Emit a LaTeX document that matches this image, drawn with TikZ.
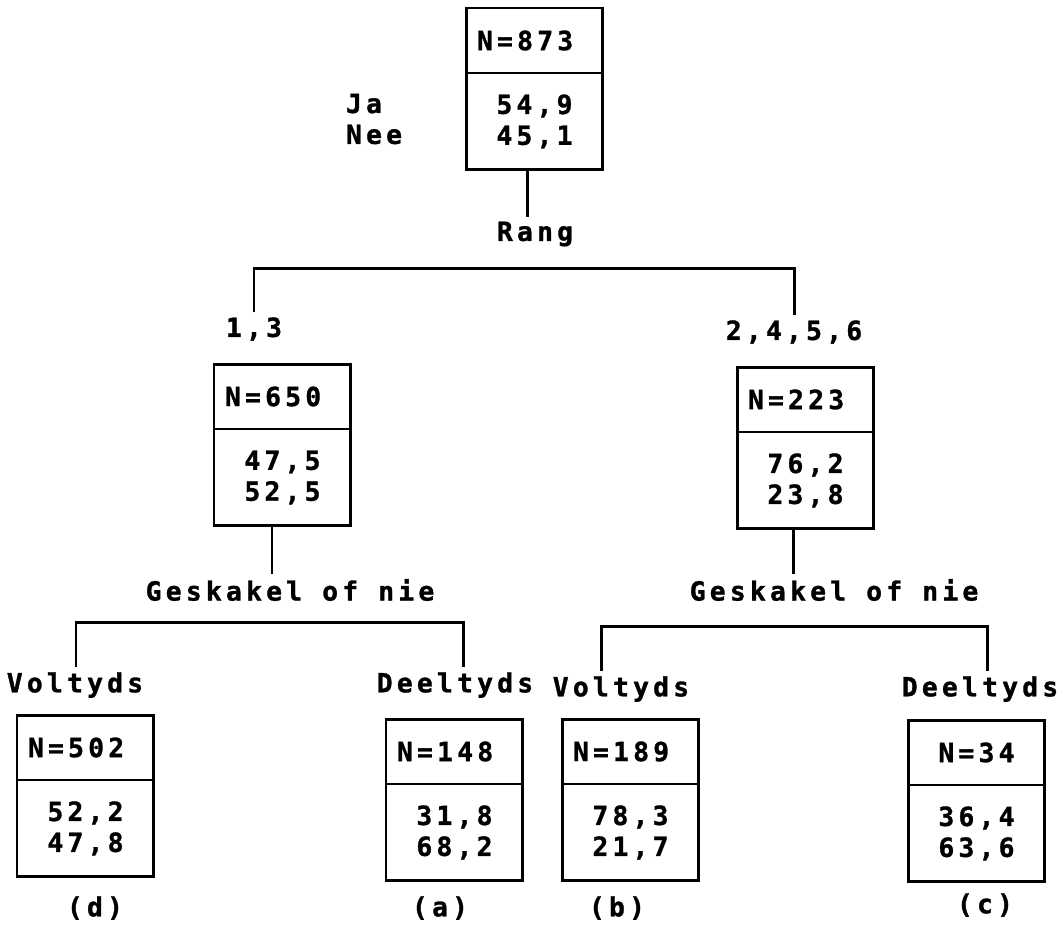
\documentclass[tikz,border=0pt]{standalone}
\usepackage{fontspec}
\newfontfamily\dotfont{DejaVu Sans Mono}[LetterSpace=16, BoldFeatures={FakeBold=1.2}]
\usepackage{tikz}
\usetikzlibrary{positioning}

\begin{document}
\begin{tikzpicture}[
                x=0.02cm, y=-0.02cm,
                line width=1.7pt,
                every node/.style={font=\dotfont\bfseries\fontsize{15pt}{17.6pt}\selectfont, inner sep=2pt},
                head/.style={draw, outer sep=0pt, anchor=north west, minimum height=1.3cm,
                    text width=2.3cm, inner xsep=0.22cm, align=left},
                body/.style={draw, outer sep=0pt, minimum height=1.94cm,
                    text width=2.3cm, inner xsep=0.22cm, align=center}
            ]
                \useasboundingbox (0,0) rectangle (1064,924);
                % top
                \node[head] (h873) at (466,8) {N=873};
                \node[body, below=0pt of h873] (v873) {54,9\\45,1};
                \node[anchor=west, align=left] (janee) at (341,119) {Ja\\Nee};
                \node (rang) at (535,234) {Rang};
                \node (l13) at (254,329) {1,3};
                \node (l2456) at (794,332) {2,4,5,6};
                % second row
                \node[head] (h650) at (214,364) {N=650};
                \node[body, below=0pt of h650] (v650) {47,5\\52,5};
                \node[head] (h223) at (737,367) {N=223};
                \node[body, below=0pt of h223] (v223) {76,2\\23,8};
                \node (gl) at (290,590) {Geskakel of nie};
                \node (gr) at (834,590) {Geskakel of nie};
                \node (vl) at (75,685) {Voltyds};
                \node (dl) at (455,685) {Deeltyds};
                \node (vr) at (621,689) {Voltyds};
                \node (dr) at (980,689) {Deeltyds};
                % bottom row
                \node[head] (h502) at (17,715) {N=502};
                \node[body, below=0pt of h502] (v502) {52,2\\47,8};
                \node[head] (h148) at (386,719) {N=148};
                \node[body, below=0pt of h148] (v148) {31,8\\68,2};
                \node[head] (h189) at (562,719) {N=189};
                \node[body, below=0pt of h189] (v189) {78,3\\21,7};
                \node[head, align=center] (h34) at (908,720) {N=34};
                \node[body, below=0pt of h34] (v34) {36,4\\63,6};
                \node (cd) at (95,908) {(d)};
                \node (ca) at (440,908) {(a)};
                \node (cb) at (617,908) {(b)};
                \node (cc) at (985,905) {(c)};
                % stems and bars
                \path (v873.south -| 527,0) edge (rang.north -| 527,0)
                (v650.south -| 272,0) edge (gl.north -| 272,0)
                (v223.south -| 793,0) edge (gr.north -| 793,0);
                \draw (l13.north) |- (525,268) -| (l2456.north);
                \draw (vl.north -| 76,0) |- (270,622) -| (dl.north -| 463,0);
                \draw (vr.north -| 601,0) |- (790,626) -| (dr.north -| 987,0);
            \end{tikzpicture}
\end{document}
